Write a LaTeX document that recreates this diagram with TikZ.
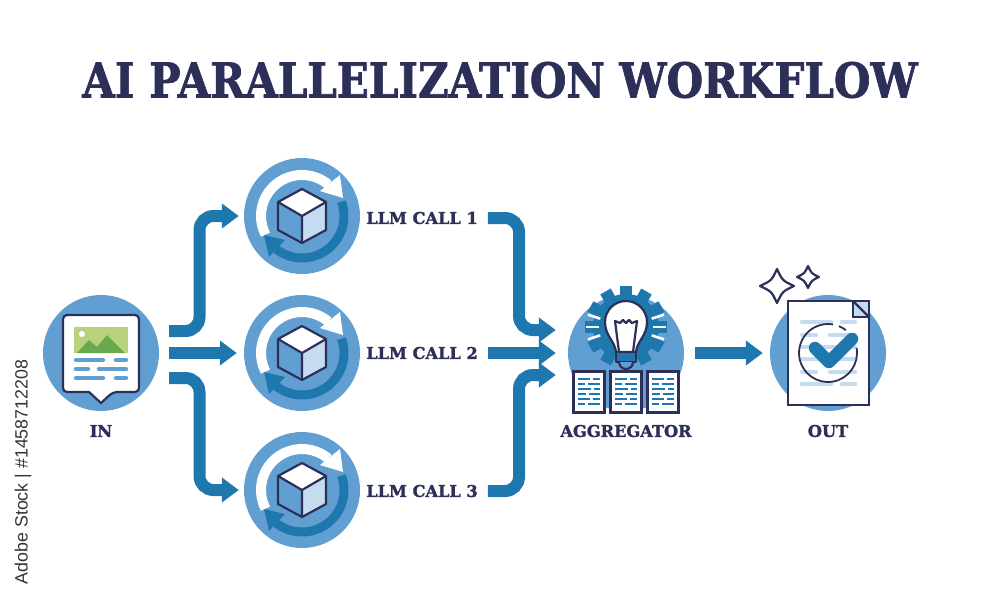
\documentclass[tikz,border=0pt]{standalone}
\usepackage{fontspec}
\setmainfont{DejaVu Serif}[BoldFeatures={FakeBold=1.6}]
\setsansfont{Liberation Sans}
\usepackage{tikz}
\usetikzlibrary{arrows.meta, calc}
\definecolor{circleblue}{HTML}{619FD2}
\definecolor{flowblue}{HTML}{1F78AD}
\definecolor{inkblue}{HTML}{2C3059}
\definecolor{paleblue}{HTML}{C5DCF0}
\definecolor{leafgreen}{HTML}{B7D27A}
\definecolor{hillgreen}{HTML}{6AA84F}
\tikzstyle{bluecircle} = [circle, minimum size=116pt, inner sep=0pt, fill=circleblue]
\tikzstyle{caption} = [font=\bfseries\fontsize{16.2}{16.2}\selectfont, text=inkblue, inner sep=0pt]
\tikzstyle{arrow} = [line width=12pt, draw=flowblue, -{Triangle[length=17pt,width=24pt]}]
\tikzstyle{bentarrow} = [arrow, rounded corners=14pt]
\tikzstyle{outline} = [draw=inkblue, line width=2.2pt, line join=round]
\tikzstyle{sheet} = [draw=inkblue, line width=2.2pt, line join=miter]
\tikzstyle{barline} = [line width=4.5pt, line cap=round]
\tikzset{
  pics/spincube/.style={code={
    \draw [flowblue, line width=9pt] (20:42pt) arc [start angle=20, end angle=-128, radius=42pt];
    \fill [flowblue] (-38,19) -- (-17,24) -- (-33,41) -- cycle;
    \draw [white, line width=10pt] (207:41pt) arc [start angle=207, end angle=50, radius=41pt];
    \fill [white] (41,-18) -- (38,-41) -- (18,-25) -- cycle;
    \fill [white] (0,0) -- (-24,-14) -- (0,-27) -- (24,-14) -- cycle;
    \fill [paleblue] (0,0) -- (24,-14) -- (24,14) -- (0,27) -- cycle;
    \draw [outline] (0,-27) -- (24,-14) -- (24,14) -- (0,27) -- (-24,14) -- (-24,-14) -- cycle;
    \draw [outline] (-24,-14) -- (0,0) -- (24,-14) (0,0) -- (0,27);
  }},
  pics/paperdoc/.style={code={
    \draw [sheet, fill=white] (-15.5,-20.5) rectangle (15.5,20.5);
    \foreach \row/\cut in {-13/2,-8/-3,-3/3,2/-2,7/2,12/-3}
      \draw [flowblue, line width=1.9pt] (-11,\row) -- (\cut-1.5,\row) (\cut+1.5,\row) -- (11,\row);
  }},
  pics/sparkle/.style={code={
    \draw [outline] (0,-1) .. controls (0.32,-0.32) .. (1,0) .. controls (0.32,0.32) .. (0,1)
      .. controls (-0.32,0.32) .. (-1,0) .. controls (-0.32,-0.32) .. (0,-1) -- cycle;
  }}
}

\begin{document}
\begin{tikzpicture}[x=1pt, y=-1pt, node distance=137pt]
  \useasboundingbox (0,0) rectangle (1000,600);

  \node (title) at (500,80) {\textcolor{inkblue}{\bfseries\fontsize{48}{48}\selectfont\scalebox{0.875}[1]{AI PARALLELIZATION WORKFLOW}}};
  \node (stock) [rotate=90, font=\sffamily\fontsize{17.8}{17.8}\selectfont, text=black!80, inner sep=0pt] at (23,472) {Adobe Stock | \#1458712208};

  \node (in) [bluecircle] at (101,353) {};
  \node (call2) [bluecircle, right of=in, xshift=64pt] {};
  \node (call1) [bluecircle, above of=call2] {};
  \node (call3) [bluecircle, below of=call2] {};
  \node (aggregator) [bluecircle, right of=call2, xshift=187pt] {};
  \node (out) [bluecircle, right of=aggregator, xshift=65pt] {};

  \node (inlabel) [caption, below of=in, yshift=59pt] {IN};
  \node (label1) [caption, right of=call1, xshift=-17pt, yshift=-2pt] {LLM CALL 1};
  \node (label2) [caption, right of=call2, xshift=-17pt] {LLM CALL 2};
  \node (label3) [caption, right of=call3, xshift=-17pt, yshift=-1pt] {LLM CALL 3};
  \node (agglabel) [caption, below of=aggregator, yshift=59pt] {AGGREGATOR};
  \node (outlabel) [caption, below of=out, yshift=59pt] {OUT};

  % input sheet
  \begin{scope}[shift={(in.center)}]
    \draw [outline, fill=white, rounded corners=4pt] (-38,-38) -- (38,-38) -- (38,39) -- (12,39) [sharp corners] -- (0,50) -- (-12,39) [rounded corners=4pt] -- (-38,39) -- cycle;
    \fill [leafgreen] (-27,-26) rectangle (27,0);
    \fill [hillgreen] (-24,0) -- (-12,-13) -- (-4,-6) -- (6,-18) -- (24,0) -- cycle;
    \fill [white] (-19,-19) circle (3pt);
    \foreach \row in {7,25} {
      \draw [barline, circleblue] (-25,\row) -- (2,\row);
      \draw [barline, circleblue] (15,\row) -- (25,\row);
    }
    \draw [barline, circleblue] (-25,16) -- (-13,16);
    \draw [barline, circleblue] (-2,16) -- (25,16);
  \end{scope}

  \pic at (call1) {spincube};
  \pic at (call2) {spincube};
  \pic at (call3) {spincube};

  % aggregator icon
  \begin{scope}[shift={($(aggregator.center)+(0,-26)$)}]
    \foreach \a in {0,30,...,330}
      \fill [flowblue, rotate=\a] (-6,0) rectangle (6,-41);
    \fill [flowblue] (0,0) circle (33pt);
    \foreach \a in {-18,0,18} {
      \draw [white, line width=2.6pt, rotate=\a] (27,0) -- (40,0);
      \draw [white, line width=2.6pt, rotate=\a] (-27,0) -- (-40,0);
    }
    \draw [outline, fill=white] (-10,25) .. controls (-11,14) and (-21,9) .. (-21,-5) arc [start angle=180, end angle=0, radius=21pt] .. controls (21,9) and (11,14) .. (10,25) -- cycle;
    \draw [outline] (-7,25) -- (-11,-6) -- (-6,-4) -- (-3,-7) -- (0,-4) -- (3,-7) -- (6,-4) -- (11,-6) -- (7,25);
    \draw [outline, fill=flowblue] (-10,25) rectangle (10,35);
    \draw [outline, fill=circleblue] (-7,35) arc [start angle=180, end angle=360, radius=7pt];
  \end{scope}
  \pic at ($(aggregator.center)+(-37,39)$) {paperdoc};
  \pic at ($(aggregator.center)+(0,39)$) {paperdoc};
  \pic at ($(aggregator.center)+(37,39)$) {paperdoc};

  % output sheet
  \begin{scope}[shift={(out.center)}]
    \draw [sheet, fill=white] (-40,-52) -- (41,-52) -- (41,52) -- (-40,52) -- cycle;
    \draw [sheet, fill=paleblue] (25,-52) -- (41,-52) -- (41,-36) -- (25,-36) -- cycle;
    \draw [sheet] (25,-52) -- (41,-36);
    \foreach \row in {-31,31} {
      \draw [barline, paleblue] (-26,\row) -- (3,\row);
      \draw [barline, paleblue] (14,\row) -- (27,\row);
    }
    \draw [barline, paleblue] (-26,-18) -- (-12,-18);
    \draw [barline, paleblue] (2,-18) -- (27,-18);
    \draw [barline, paleblue] (-26,-6) -- (27,-6);
    \draw [barline, paleblue] (-26,6) -- (27,6);
    \draw [barline, paleblue] (-26,19) -- (-12,19);
    \draw [barline, paleblue] (2,19) -- (27,19);
    \draw [draw=inkblue, line width=1.8pt] (10:29pt) arc [start angle=10, end angle=-280, radius=29pt];
    \draw [draw=inkblue, line width=1.8pt] (52:29pt) arc [start angle=52, end angle=68, radius=29pt];
    \draw [flowblue, line width=12.5pt, line cap=round, line join=round] (-13,-5) -- (1,9) -- (24,-14);
  \end{scope}
  \pic [xscale=17, yscale=17] at (777,286) {sparkle};
  \pic [xscale=11, yscale=11] at (808,277) {sparkle};

  % connectors
  \coordinate (inUp) at ($(in.east)+(10,-22)$);
  \coordinate (inDown) at ($(in.east)+(10,25)$);
  \coordinate (bendUp) at (199.5,270);
  \coordinate (bendDown) at (199.5,430);
  \coordinate (bendTop) at (519,270);
  \coordinate (bendLow) at (519,430);
  \coordinate (aggTop) at ($(aggregator.west)+(-12,-23)$);
  \coordinate (aggMid) at ($(aggregator.west)+(-12,0)$);
  \coordinate (aggLow) at ($(aggregator.west)+(-12,22)$);

  \draw [bentarrow, shorten >=5pt] (inUp) -| (bendUp) |- (call1.west);
  \draw [arrow, shorten <=10pt, shorten >=7pt] (in.east) -- (call2.west);
  \draw [bentarrow, shorten >=5pt] (inDown) -| (bendDown) |- (call3.west);
  \draw [bentarrow, shorten <=10pt] (label1.east) -| (bendTop) |- (aggTop);
  \draw [arrow, shorten <=10pt] (label2.east) -- (aggMid);
  \draw [bentarrow, shorten <=10pt] (label3.east) -| (bendLow) |- (aggLow);
  \draw [arrow, shorten <=11pt, shorten >=7pt] (aggregator.east) -- (out.west);

\end{tikzpicture}
\end{document}
